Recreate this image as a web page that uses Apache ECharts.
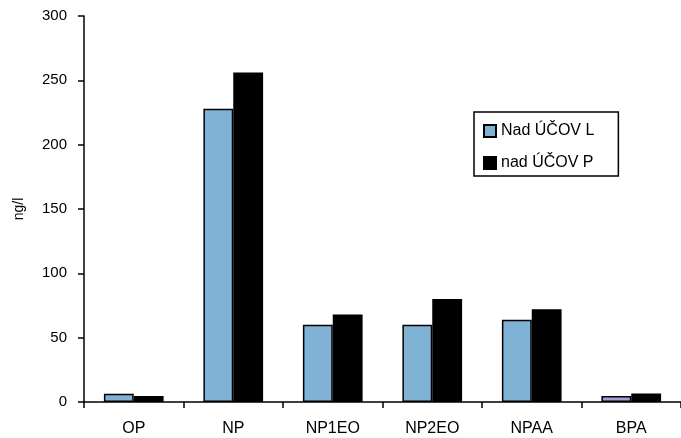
<!DOCTYPE html>
<html>
<head>
<meta charset="utf-8">
<script src="https://cdn.jsdelivr.net/npm/echarts@6/dist/echarts.min.js"></script>
<style>html,body{margin:0;padding:0;background:#fff}#c{width:681px;height:438px}</style>
</head>
<body>
<div id="c"></div>
<script>
const categories = ['OP', 'NP', 'NP1EO', 'NP2EO', 'NPAA', 'BPA'];
const seriesNames = ['Nad ÚČOV L', 'nad ÚČOV P'];
const valuesL = [6.5, 228, 60, 60, 64, 4.7];
const valuesP = [4.7, 256, 68, 80, 72, 6.6];
const yTicks = [0, 50, 100, 150, 200, 250, 300];
const yName = 'ng/l';

const blue = '#7fb2d5';
const lavender = '#a49fd0';
const chart = echarts.init(document.getElementById('c'), null, {renderer: 'canvas'});
const font = '"Liberation Sans", Arial, sans-serif';
chart.setOption({
  animation: false,
  backgroundColor: '#fff',
  grid: {left: 84, right: 0, top: 16, bottom: 36, containLabel: false},
  legend: {
    orient: 'vertical', left: 474, top: 112,
    padding: [11, 24, 5, 9],
    itemGap: 16, itemWidth: 12, itemHeight: 12,
    icon: 'rect',
    borderColor: '#000', borderWidth: 1.5, backgroundColor: '#fff',
    textStyle: {fontFamily: font, fontSize: 16, color: '#000'},
    data: seriesNames
  },
  xAxis: {
    type: 'category', data: categories,
    axisLine: {lineStyle: {color: '#000', width: 1.5}},
    axisTick: {show: true, length: 6, lineStyle: {color: '#000', width: 1.5}},
    axisLabel: {color: '#000', fontFamily: font, fontSize: 16, margin: 19}
  },
  yAxis: {
    type: 'value', min: yTicks[0], max: yTicks[yTicks.length - 1], interval: yTicks[1] - yTicks[0],
    name: yName, nameLocation: 'middle', nameRotate: 90, nameGap: 58,
    nameTextStyle: {color: '#000', fontFamily: font, fontSize: 14},
    axisLine: {show: true, lineStyle: {color: '#000', width: 1.5}},
    axisTick: {show: true, length: 6, lineStyle: {color: '#000', width: 1.5}},
    axisLabel: {color: '#000', fontFamily: font, fontSize: 15, margin: 17},
    splitLine: {show: false}
  },
  series: [
    {
      name: seriesNames[0], type: 'bar', barCategoryGap: '40%', barGap: '0%',
      itemStyle: {color: blue, borderColor: '#000', borderWidth: 1.5},
      data: valuesL.map((v, i) => i === categories.length - 1 ? {value: v, itemStyle: {color: lavender}} : v)
    },
    {
      name: seriesNames[1], type: 'bar', barCategoryGap: '40%', barGap: '0%',
      itemStyle: {color: '#000', borderColor: '#000', borderWidth: 1.5},
      data: valuesP
    }
  ]
});
</script>
</body>
</html>
